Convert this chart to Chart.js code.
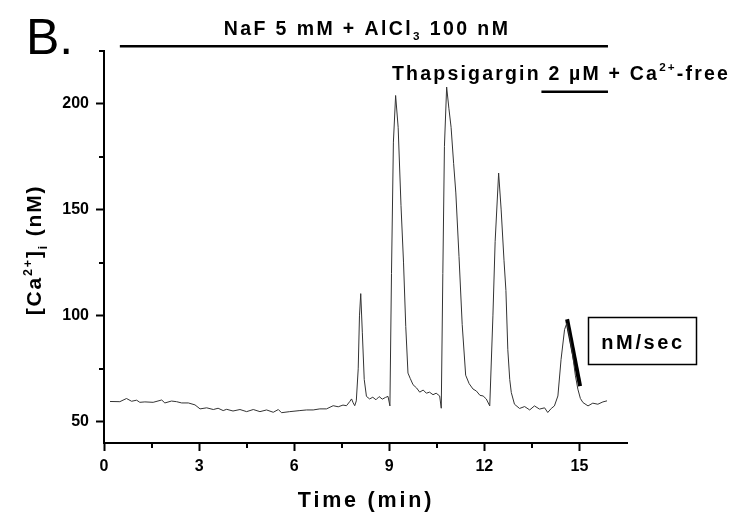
<!DOCTYPE html>
<html>
<head>
<meta charset="utf-8">
<script src="https://cdn.jsdelivr.net/npm/chart.js@4.4.1/dist/chart.umd.min.js"></script>
<style>
  html, body { margin: 0; padding: 0; background: #fff; }
  #wrap { width: 747px; height: 518px; position: relative; }
</style>
</head>
<body>
<div id="wrap"><canvas id="c" width="747" height="518"></canvas></div>
<script>
// ---- Data ----
const timeMin = [
  0.19,0.50,0.71,0.87,1.03,1.13,1.29,1.55,1.82,1.92,
  2.13,2.29,2.45,2.66,2.87,3.03,3.24,3.45,3.60,3.76,
  3.87,4.07,4.29,4.50,4.71,4.92,5.13,5.34,5.50,5.60,
  5.86,6.18,6.39,6.60,6.81,7.02,7.23,7.39,7.54,7.65,
  7.75,7.81,7.86,7.91,7.96,
  8.02,8.06,8.10,8.15,8.21,8.28,
  8.38,8.48,8.58,8.68,8.78,8.88,8.96,9.02,
  9.07,9.13,9.20,9.28,9.37,9.45,9.52,9.59,9.66,9.75,9.86,9.96,10.07,10.17,10.27,10.38,10.48,10.59,10.64,
  10.69,10.74,10.81,10.88,10.95,11.03,11.10,11.20,11.30,11.41,11.52,11.64,11.75,11.86,11.96,12.06,12.17,
  12.27,12.34,12.45,12.53,12.62,12.68,12.74,12.80,12.85,12.95,
  13.11,13.27,13.43,13.58,13.74,13.90,14.00,14.11,14.21,14.32,14.42,14.53,14.60,14.69,14.79,14.87,14.95,15.03,15.11,15.27,15.42,15.58,15.74,15.87
];
const caNM = [
  59.6,59.5,61.0,59.7,60.2,59.2,59.4,59.2,60.3,58.9,
  59.8,59.5,58.9,58.9,58.0,56.1,56.6,55.8,56.4,55.3,
  55.9,55.1,55.8,54.8,55.8,54.8,55.6,54.5,55.8,54.3,
  54.8,55.3,55.6,55.6,56.1,56.1,57.6,57.1,57.9,57.6,
  59.5,60.8,59.0,57.6,59.9,
  75,100,110.5,92,70,62,
  60.8,61.6,60.4,61.9,60.7,61.5,62.0,57.5,
  120,182,204,189,152,125,95,73,70.5,67.5,66,64,65,63.5,64,62.8,63.5,62.2,56.4,
  120,180,208,198,189,172,158,128,96,72,68,65.5,64.5,62.5,62.2,60.8,57.5,
  100,135,167.4,150,126,112,84,70,63.8,58.3,
  56.3,57.2,55.6,57.5,56,56.6,54.4,56.3,57.5,62.2,79.5,93.5,96.5,90,81,72,65.4,61,59.1,57.5,58.8,58.3,59.4,59.9
];
// slope marker (nM/sec)
const slopeTime = [14.61, 15.02];
const slopeNM = [98.4, 66.8];
// treatment bars: [start, end] in minutes, and level in nM (drawn above traces)
const nafBar = [0.5, 15.9];
const nafLevel = 227.3;
const thapsBar = [13.8, 15.9];
const thapsLevel = 205.8;
// axis ticks
const xMajorTicks = [0, 3, 6, 9, 12, 15];
const xMinorTicks = [1.5, 4.5, 7.5, 10.5, 13.5];
const yMajorTicks = [50, 100, 150, 200];
const yMinorTicks = [75, 125, 175, 225];

const FONT = '"Liberation Sans", Arial, Helvetica, sans-serif';

function richWidth(ctx, parts, size, spacing) {
  let w = 0;
  for (const p of parts) {
    const fs = p.s ? size * 0.6 : size;
    ctx.font = 'bold ' + fs + 'px ' + FONT;
    ctx.letterSpacing = spacing + 'px';
    w += ctx.measureText(p.t).width;
  }
  return w;
}
function drawRich(ctx, parts, x, y, size, spacing, align) {
  let w = richWidth(ctx, parts, size, spacing);
  let cx = align === 'center' ? x - w / 2 : x;
  ctx.textAlign = 'left';
  ctx.textBaseline = 'alphabetic';
  for (const p of parts) {
    const fs = p.s ? size * 0.6 : size;
    ctx.font = 'bold ' + fs + 'px ' + FONT;
    ctx.letterSpacing = spacing + 'px';
    let dy = 0;
    if (p.s === 'sup') dy = -size * 0.45;
    if (p.s === 'sub') dy = size * 0.28;
    ctx.fillText(p.t, cx, y + dy);
    cx += ctx.measureText(p.t).width;
  }
}

const decorPlugin = {
  id: 'decor',
  afterDraw(chart) {
    const ctx = chart.ctx;
    const xs = chart.scales.x, ys = chart.scales.y;
    ctx.save();
    ctx.fillStyle = '#000';
    ctx.strokeStyle = '#000';
    // minor ticks
    ctx.lineWidth = 2;
    const area = chart.chartArea;
    for (const v of xMinorTicks) {
      const px = Math.round(xs.getPixelForValue(v));
      ctx.beginPath(); ctx.moveTo(px, area.bottom); ctx.lineTo(px, area.bottom + 5); ctx.stroke();
    }
    for (const v of yMinorTicks) {
      const py = Math.round(ys.getPixelForValue(v));
      ctx.beginPath(); ctx.moveTo(area.left, py); ctx.lineTo(area.left - 5, py); ctx.stroke();
    }
    // panel letter
    ctx.letterSpacing = '0px';
    ctx.font = '50px ' + FONT;
    ctx.textAlign = 'left';
    ctx.textBaseline = 'alphabetic';
    ctx.fillText('B.', 26, 54);
    // NaF label
    drawRich(ctx, [{t:'NaF 5 mM + AlCl'}, {t:'3', s:'sub'}, {t:' 100 nM'}], 367, 35, 19.5, 2.4, 'center');
    // Thapsigargin label
    drawRich(ctx, [{t:'Thapsigargin 2 \u00B5M + Ca'}, {t:'2+', s:'sup'}, {t:'-free'}], 392, 80, 19.5, 2.2, 'left');
    // y axis title
    ctx.save();
    ctx.translate(41, 250);
    ctx.rotate(-Math.PI / 2);
    drawRich(ctx, [{t:'[Ca'}, {t:'2+', s:'sup'}, {t:']'}, {t:'i', s:'sub'}, {t:' (nM)'}], 0, 0, 21, 1.8, 'center');
    ctx.restore();
    // x axis title
    drawRich(ctx, [{t:'Time (min)'}], 366, 507, 21.5, 2.8, 'center');
    // nM/sec box
    ctx.lineWidth = 1.5;
    ctx.strokeRect(588.5, 317.5, 108, 47);
    drawRich(ctx, [{t:'nM/sec'}], 643, 349, 20, 2.6, 'center');
    ctx.restore();
  }
};

const ctx = document.getElementById('c').getContext('2d');
new Chart(ctx, {
  type: 'line',
  data: {
    datasets: [
      {
        data: timeMin.map((t, i) => ({x: t, y: caNM[i]})),
        borderColor: '#333', borderWidth: 1, pointRadius: 0, tension: 0
      },
      {
        data: slopeTime.map((t, i) => ({x: t, y: slopeNM[i]})),
        borderColor: '#000', borderWidth: 4, pointRadius: 0, tension: 0
      },
      {
        data: nafBar.map(t => ({x: t, y: nafLevel})),
        borderColor: '#000', borderWidth: 2.5, pointRadius: 0, clip: false
      },
      {
        data: thapsBar.map(t => ({x: t, y: thapsLevel})),
        borderColor: '#000', borderWidth: 2.5, pointRadius: 0, clip: false
      }
    ]
  },
  options: {
    responsive: false,
    animation: false,
    devicePixelRatio: 1,
    layout: { padding: { left: 0, right: 120, top: 51, bottom: 0 } },
    plugins: { legend: { display: false }, tooltip: { enabled: false } },
    scales: {
      x: {
        type: 'linear', min: 0, max: 16.5,
        afterFit: s => { s.height = 75; },
        afterBuildTicks: s => { s.ticks = xMajorTicks.map(v => ({value: v})); },
        grid: { drawOnChartArea: false, tickLength: 8, tickWidth: 2, tickColor: '#000' },
        border: { color: '#000', width: 2 },
        ticks: {
          color: '#000', padding: 6, maxRotation: 0,
          font: { family: FONT, size: 16, weight: 'bold' }
        }
      },
      y: {
        type: 'linear', min: 40, max: 225,
        afterFit: s => { s.width = 104; },
        afterBuildTicks: s => { s.ticks = yMajorTicks.map(v => ({value: v})); },
        grid: { drawOnChartArea: false, tickLength: 8, tickWidth: 2, tickColor: '#000' },
        border: { color: '#000', width: 2 },
        ticks: {
          color: '#000', padding: 7,
          font: { family: FONT, size: 16, weight: 'bold' }
        }
      }
    }
  },
  plugins: [decorPlugin]
});
</script>
</body>
</html>
